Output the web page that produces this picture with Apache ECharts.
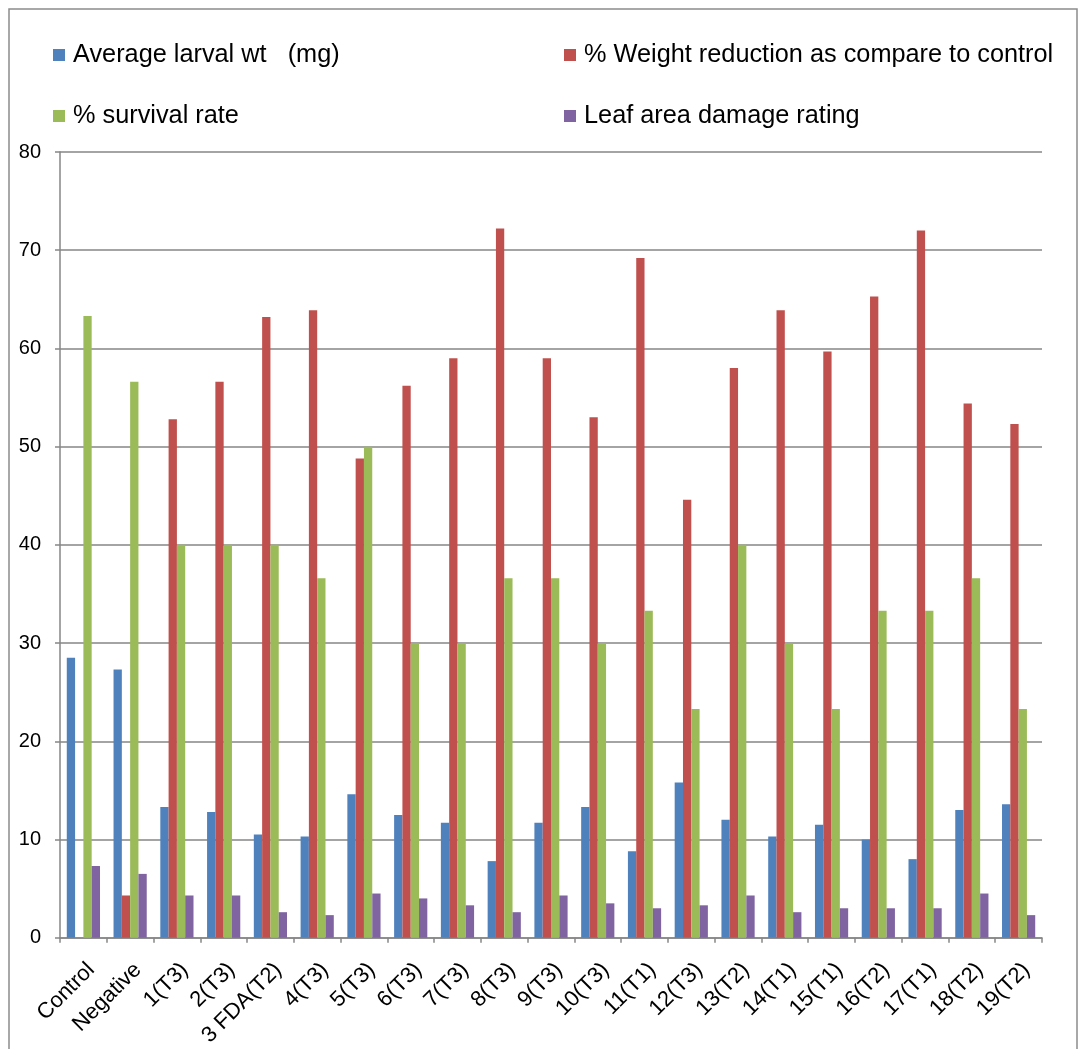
<!DOCTYPE html>
<html>
<head>
<meta charset="utf-8">
<script src="https://cdn.jsdelivr.net/npm/echarts@6/dist/echarts.min.js"></script>
<style>
html,body{margin:0;padding:0;background:#fff;}
#chart{width:1081px;height:1049px;}
</style>
</head>
<body>
<div id="chart"></div>
<script>
var categories = ["Control","Negative","1(T3)","2(T3)","3 FDA(T2)","4(T3)","5(T3)","6(T3)","7(T3)","8(T3)","9(T3)","10(T3)","11(T1)","12(T3)","13(T2)","14(T1)","15(T1)","16(T2)","17(T1)","18(T2)","19(T2)"];
var seriesNames = ["Average larval wt   (mg)","% Weight reduction as compare to control","% survival rate","Leaf area damage rating"];
var avgLarvalWt = [28.5,27.3,13.3,12.8,10.5,10.3,14.6,12.5,11.7,7.8,11.7,13.3,8.8,15.8,12.0,10.3,11.5,10.0,8.0,13.0,13.6];
var weightReduction = [0,4.3,52.8,56.6,63.2,63.9,48.8,56.2,59.0,72.2,59.0,53.0,69.2,44.6,58.0,63.9,59.7,65.3,72.0,54.4,52.3];
var survivalRate = [63.3,56.6,40,40,40,36.6,50,30,30,36.6,36.6,30,33.3,23.3,40,30,23.3,33.3,33.3,36.6,23.3];
var leafDamage = [7.3,6.5,4.3,4.3,2.6,2.3,4.5,4.0,3.3,2.6,4.3,3.5,3.0,3.3,4.3,2.6,3.0,3.0,3.0,4.5,2.3];
var yTicks = {min:0, max:80, interval:10};

var colors = ["#4F81BD","#C0504D","#9BBB59","#8064A2"];
var FONT = "Liberation Sans, Arial, sans-serif";
var seriesData = [avgLarvalWt, weightReduction, survivalRate, leafDamage];

function legendAt(name, left, top){
  return {
    data:[name], left:left, top:top, padding:0, itemWidth:12, itemHeight:12,
    icon:'rect', selectedMode:false,
    textStyle:{fontFamily:FONT, fontSize:25.3, color:'#000', lineHeight:30, padding:[0,0,0,3]}
  };
}

var chart = echarts.init(document.getElementById('chart'), null, {renderer:'canvas'});
chart.setOption({
  animation:false,
  backgroundColor:'#fff',
  color:colors,
  graphic:[{
    type:'rect', silent:true, z:-10,
    shape:{x:9, y:9, width:1068, height:1100},
    style:{fill:'none', stroke:'#8c8c8c', lineWidth:1.5}
  }],
  legend:[
    legendAt(seriesNames[0], 53, 40),
    legendAt(seriesNames[1], 564, 40),
    legendAt(seriesNames[2], 53, 101),
    legendAt(seriesNames[3], 564, 101)
  ],
  grid:{left:60, right:39, top:152, bottom:111, containLabel:false},
  xAxis:{
    type:'category', data:categories, boundaryGap:true,
    axisLine:{lineStyle:{color:'#868686', width:1.5}},
    axisTick:{show:true, length:5, alignWithLabel:false, interval:0, lineStyle:{color:'#868686', width:1.5}},
    axisLabel:{interval:0, rotate:45, margin:21, verticalAlign:'top', fontFamily:FONT, fontSize:22, color:'#000'}
  },
  yAxis:{
    type:'value', min:yTicks.min, max:yTicks.max, interval:yTicks.interval,
    axisLine:{show:true, lineStyle:{color:'#868686', width:1.5}},
    axisTick:{show:true, length:5, lineStyle:{color:'#868686', width:1.5}},
    splitLine:{show:true, lineStyle:{color:'#868686', width:1.5}},
    axisLabel:{margin:19, fontFamily:FONT, fontSize:20, color:'#000'}
  },
  series: seriesNames.map(function(n,i){
    return {
      name:n, type:'bar', data:seriesData[i],
      barGap:'0%', barCategoryGap:'29%',
      itemStyle:{color:colors[i]}
    };
  })
});
</script>
</body>
</html>
